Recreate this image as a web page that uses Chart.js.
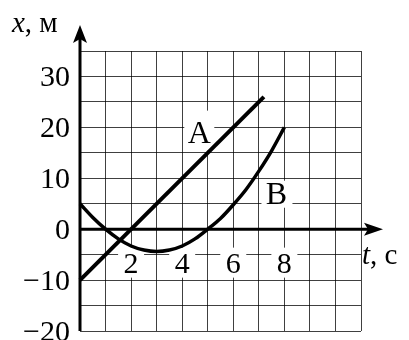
<!DOCTYPE html>
<html><head><meta charset="utf-8">
<script src="https://cdn.jsdelivr.net/npm/chart.js@4"></script>
<style>html,body{margin:0;padding:0;background:#fff}#wrap{width:409px;height:340px}</style>
</head><body><div id="wrap"><canvas id="c" width="409" height="340"></canvas></div>
<script>
const tA = [0, 7.2];
const xA = [-10, 26];
const tB = [0, 0.5, 1, 1.5, 2, 2.5, 3, 3.5, 4, 4.5, 5, 5.5, 6, 6.5, 7, 7.5, 8];
const xB = [5, 2.3, 0, -1.9, -3.3, -4.1, -4.4, -4.1, -3.3, -1.9, 0, 2.1, 4.8, 7.8, 11.4, 15.4, 20];
const yTickValues = [30, 20, 10, 0, -10, -20];
const yTickLabels = ['30', '20', '10', '0', '−10', '−20'];
const xTickValues = [2, 4, 6, 8];
const xTickLabels = ['2', '4', '6', '8'];
const seriesNames = ['A', 'B'];
const xAxisTitle = ['t', ', c'];
const yAxisTitle = ['x', ', м'];

const FONT = '"Liberation Serif", "Times New Roman", serif';
const GRID = 'rgba(0,0,0,0.75)';

const labelsPlugin = {
  id: 'labels',
  beforeDatasetsDraw(chart) {
    const ctx = chart.ctx, xs = chart.scales.x, ys = chart.scales.y;
    ctx.save();
    ctx.font = '30px ' + FONT;
    ctx.fillStyle = '#000';
    // y tick labels
    ctx.textAlign = 'right';
    ctx.textBaseline = 'alphabetic';
    yTickValues.forEach((v, i) => {
      ctx.fillText(yTickLabels[i], xs.left - 10, ys.getPixelForValue(v) + 10);
    });
    // x tick labels with white boxes
    const yp = ys.getPixelForValue(-5);
    ctx.textAlign = 'center';
    xTickValues.forEach((v, i) => {
      const xp = xs.getPixelForValue(v);
      ctx.fillStyle = '#fff';
      ctx.fillRect(xp - 13, yp - 7, 26, 30);
      ctx.fillStyle = '#000';
      ctx.fillText(xTickLabels[i], xp, yp + 18);
    });
    // series names
    ctx.font = '32px ' + FONT;
    const names = [{t: 4.67, v: 17.0, box: [15, 32, 30, 8]}, {t: 7.69, v: 5.0, box: [15, 23, 31, 4]}];
    names.forEach((n, i) => {
      const xp = xs.getPixelForValue(n.t), bp = ys.getPixelForValue(n.v);
      ctx.fillStyle = '#fff';
      ctx.fillRect(xp - n.box[0], bp - n.box[1], n.box[2], n.box[1] + n.box[3]);
      ctx.fillStyle = '#000';
      ctx.fillText(seriesNames[i], xp, bp);
    });
    ctx.restore();
  },
  afterDatasetsDraw(chart) {
    const ctx = chart.ctx, xs = chart.scales.x, ys = chart.scales.y;
    const x0 = xs.getPixelForValue(0), y0 = ys.getPixelForValue(0);
    ctx.save();
    ctx.strokeStyle = '#000';
    ctx.fillStyle = '#000';
    ctx.lineWidth = 3;
    // y axis
    ctx.beginPath();
    ctx.moveTo(x0, ys.bottom);
    ctx.lineTo(x0, 36);
    ctx.stroke();
    ctx.beginPath();
    ctx.moveTo(x0, 25);
    ctx.lineTo(x0 - 7, 43);
    ctx.lineTo(x0, 39);
    ctx.lineTo(x0 + 7, 43);
    ctx.closePath();
    ctx.fill();
    // x axis
    ctx.beginPath();
    ctx.moveTo(x0, y0);
    ctx.lineTo(372, y0);
    ctx.stroke();
    ctx.beginPath();
    ctx.moveTo(383, y0);
    ctx.lineTo(364, y0 - 6.5);
    ctx.lineTo(368, y0);
    ctx.lineTo(364, y0 + 6.5);
    ctx.closePath();
    ctx.fill();
    // axis titles
    ctx.font = 'italic 29px ' + FONT;
    ctx.textAlign = 'left';
    ctx.textBaseline = 'alphabetic';
    ctx.fillText(yAxisTitle[0], 12, 32);
    let w = ctx.measureText(yAxisTitle[0]).width;
    ctx.font = '29px ' + FONT;
    ctx.fillText(yAxisTitle[1], 12 + w, 32);
    ctx.font = 'italic 29px ' + FONT;
    ctx.fillText(xAxisTitle[0], 362, 264);
    w = ctx.measureText(xAxisTitle[0]).width;
    ctx.font = '29px ' + FONT;
    ctx.fillText(xAxisTitle[1], 362 + w, 264);
    ctx.restore();
  }
};

new Chart(document.getElementById('c'), {
  type: 'scatter',
  data: {
    datasets: [
      {label: seriesNames[0], data: tA.map((t, i) => ({x: t, y: xA[i]})), showLine: true,
       borderColor: '#000', borderWidth: 4, pointRadius: 0, clip: false, borderCapStyle: 'butt'},
      {label: seriesNames[1], data: tB.map((t, i) => ({x: t, y: xB[i]})), showLine: true,
       borderColor: '#000', borderWidth: 3.5, pointRadius: 0, clip: false, cubicInterpolationMode: 'monotone'}
    ]
  },
  options: {
    responsive: false,
    animation: false,
    devicePixelRatio: 1,
    layout: {padding: {left: 80, right: 48, top: 51, bottom: 9}},
    plugins: {legend: {display: false}, tooltip: {enabled: false}},
    scales: {
      x: {type: 'linear', min: 0, max: 11,
          ticks: {display: false, stepSize: 1},
          grid: {color: GRID, lineWidth: 1, drawTicks: false},
          border: {display: false}},
      y: {type: 'linear', min: -20, max: 35,
          ticks: {display: false, stepSize: 5},
          grid: {color: GRID, lineWidth: 1, drawTicks: false},
          border: {display: false}}
    }
  },
  plugins: [labelsPlugin]
});
</script>
</body></html>
